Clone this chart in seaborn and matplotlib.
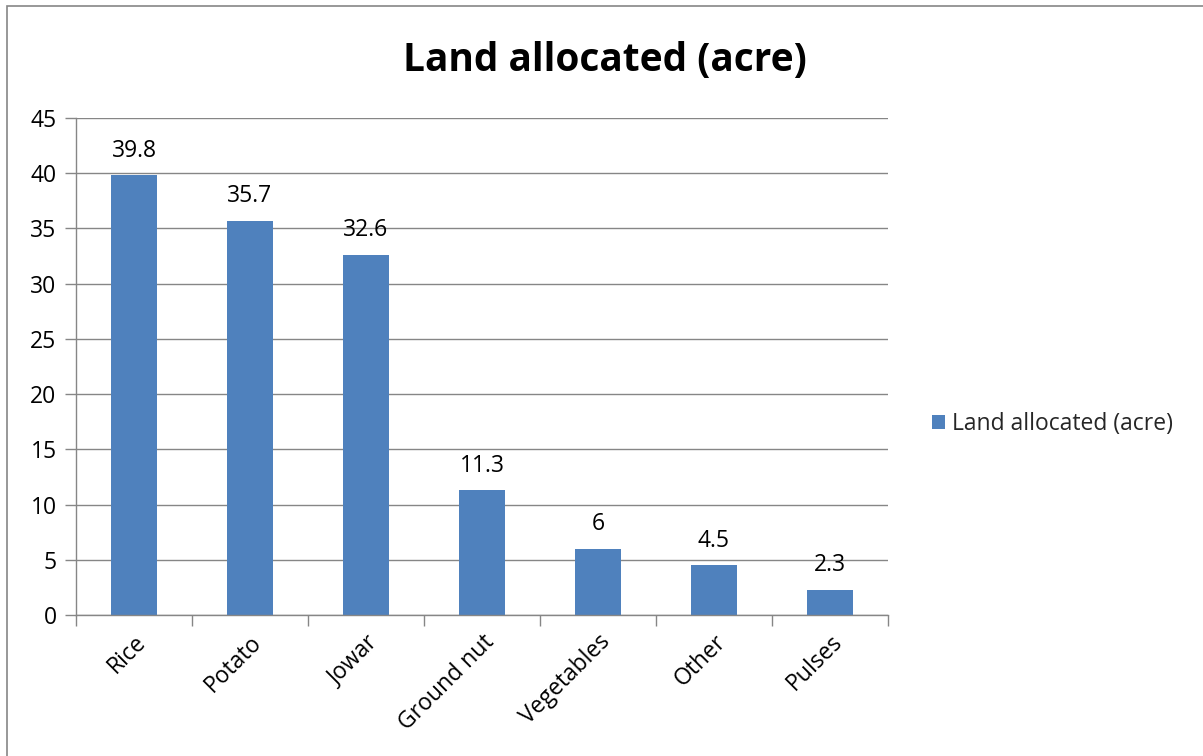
import matplotlib
matplotlib.use("Agg")
import matplotlib.pyplot as plt
import seaborn as sns
import pandas as pd
from matplotlib.patches import Rectangle
from matplotlib.ticker import MultipleLocator, FixedLocator

categories = ["Rice", "Potato", "Jowar", "Ground nut", "Vegetables", "Other", "Pulses"]
values = [39.8, 35.7, 32.6, 11.3, 6, 4.5, 2.3]
value_labels = ["39.8", "35.7", "32.6", "11.3", "6", "4.5", "2.3"]
series_name = "Land allocated (acre)"
title = "Land allocated (acre)"

sns.set_theme(style="white")
plt.rcParams['font.family'] = ['Open Sans', 'DejaVu Sans']

df = pd.DataFrame({"crop": categories, "acre": values})

fig = plt.figure(figsize=(12.03, 7.56), dpi=100)
ax = fig.add_axes([76/1203, 1-615/756, (888-76)/1203, (615-118)/756])

gray = "#868686"
sns.barplot(data=df, x="crop", y="acre", color="#4F81BD", width=0.4,
            label=series_name, ax=ax, saturation=1, linewidth=0, legend=False)
if ax.get_legend() is not None:
    ax.get_legend().remove()

ax.set_ylim(0, 45)
ax.set_xlim(-0.5, len(categories) - 0.5)
ax.yaxis.set_major_locator(MultipleLocator(5))
ax.grid(axis="y", color=gray, linewidth=1)
ax.set_axisbelow(True)
for s in ["top", "right"]:
    ax.spines[s].set_visible(False)
for s in ["left", "bottom"]:
    ax.spines[s].set_color(gray)
    ax.spines[s].set_linewidth(1)

fs = 16.5
ax.tick_params(axis="y", which="major", length=8, color=gray, width=1,
               labelsize=fs, pad=6, left=True, labelcolor="black")
ax.xaxis.set_minor_locator(FixedLocator([i - 0.5 for i in range(len(categories) + 1)]))
ax.tick_params(axis="x", which="minor", length=8, color=gray, width=1, bottom=True)
ax.tick_params(axis="x", which="major", length=0, labelsize=fs, pad=11, labelcolor="black")
plt.setp(ax.get_xticklabels(), rotation=45, ha="right", rotation_mode="anchor")
ax.set_xlabel("")
ax.set_ylabel("")

ax.bar_label(ax.containers[0], labels=value_labels, padding=9, fontsize=fs, color="black")

fig.text(605/1203, 1-60/756, title, ha="center", va="center",
         fontsize=28, fontweight="bold", color="black")

handles, labels = ax.get_legend_handles_labels()
leg = fig.legend(handles[:1], [series_name], loc="center left",
                 bbox_to_anchor=(911/1203, 1-424/756), frameon=False,
                 fontsize=fs, handlelength=0.6, handleheight=0.6, handletextpad=0.3)

fig.patches.append(Rectangle((7/1203, -0.01), 1.02, 1-6/756 + 0.01, transform=fig.transFigure,
                             fill=False, edgecolor=gray, linewidth=1.2))

fig.savefig("out.png", dpi=100)
